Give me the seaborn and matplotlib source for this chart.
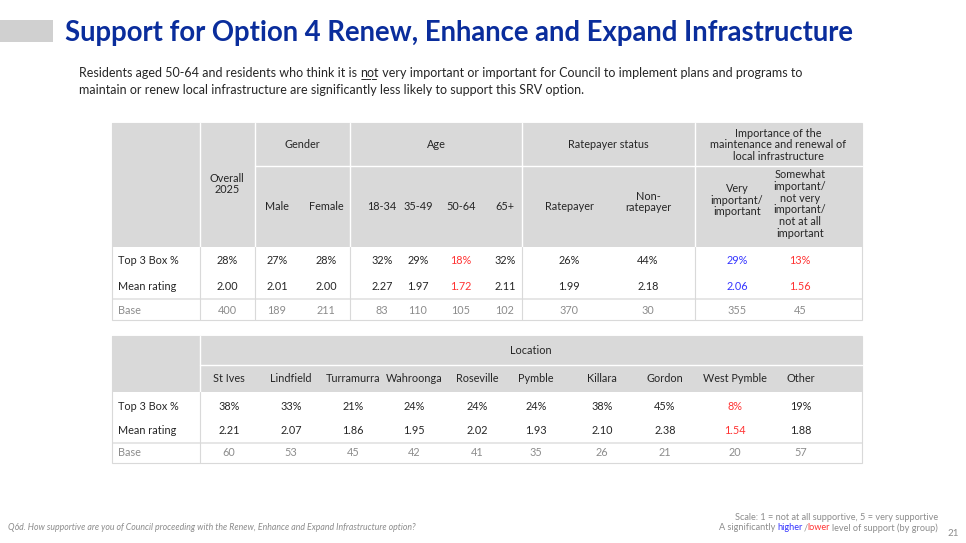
import matplotlib
matplotlib.use("Agg")
import matplotlib.pyplot as plt
import seaborn as sns
from matplotlib.patches import Rectangle

sns.set_theme(style="white")
plt.rcParams['font.family'] = ['Lato', 'DejaVu Sans']

# ---- data ----
t1_groups = ["Gender", "Age", "Ratepayer status",
             "Importance of the\nmaintenance and renewal of\nlocal infrastructure"]
t1_cols = ["Overall\n2025", "Male", "Female", "18-34", "35-49", "50-64", "65+",
           "Ratepayer", "Non-\nratepayer", "Very\nimportant/\nimportant",
           "Somewhat\nimportant/\nnot very\nimportant/\nnot at all\nimportant"]
t1_top3 = ["28%", "27%", "28%", "32%", "29%", "18%", "32%", "26%", "44%", "29%", "13%"]
t1_mean = ["2.00", "2.01", "2.00", "2.27", "1.97", "1.72", "2.11", "1.99", "2.18", "2.06", "1.56"]
t1_base = ["400", "189", "211", "83", "110", "105", "102", "370", "30", "355", "45"]
t1_sig = ["", "", "", "", "", "low", "", "", "", "high", "low"]

t2_cols = ["St Ives", "Lindfield", "Turramurra", "Wahroonga", "Roseville", "Pymble",
           "Killara", "Gordon", "West Pymble", "Other"]
t2_top3 = ["38%", "33%", "21%", "24%", "24%", "24%", "38%", "45%", "8%", "19%"]
t2_mean = ["2.21", "2.07", "1.86", "1.95", "2.02", "1.93", "2.10", "2.38", "1.54", "1.88"]
t2_base = ["60", "53", "45", "42", "41", "35", "26", "21", "20", "57"]
t2_sig = ["", "", "", "", "", "", "", "", "low", ""]

row_labels = ["Top 3 Box %", "Mean rating", "Base"]

# ---- layout ----
HDR = "#d9d9d9"
TXT = "#262626"
GREY = "#8c8c8c"
SIGC = {"": TXT, "high": "#3333ff", "low": "#ff3333"}
FS = 7.8

fig = plt.figure(figsize=(9.66, 5.43), dpi=100)
ax = fig.add_axes([0, 0, 1, 1])
ax.set_xlim(0, 966); ax.set_ylim(543, 0); ax.axis("off")

# title
ax.add_patch(Rectangle((0, 20), 53, 22, color="#d0d0d0", lw=0))
ax.text(65, 33, "Support for Option 4 Renew, Enhance and Expand Infrastructure",
        fontsize=19.8, fontweight="bold", color="#0a2d9c", va="center")
SUB = 9.0
a1 = ax.text(79, 73, "Residents aged 50-64 and residents who think it is ", fontsize=SUB, color=TXT, va="center")
a2 = ax.annotate("not", xycoords=a1, xy=(1, 0.5), va="center", fontsize=SUB, color=TXT)
a2.set_text("not")
ax.annotate(" very important or important for Council to implement plans and programs to",
            xycoords=a2, xy=(1, 0.5), va="center", fontsize=SUB, color=TXT)
ax.annotate("___", xycoords=a1, xy=(1, 0.5), va="center", fontsize=SUB, color=TXT,
            xytext=(0, -1), textcoords="offset points")
ax.text(79, 90, "maintain or renew local infrastructure are significantly less likely to support this SRV option.",
        fontsize=SUB, color=TXT, va="center")

def cell_text(x, y, s, color=TXT, fs=FS, ha="center"):
    ax.text(x, y, s, fontsize=fs, color=color, ha=ha, va="center", linespacing=1.1)

def table(x0, x1, top, hdr_bot, row_y, sep_y, bot, bounds, centers, values, sigs):
    ax.add_patch(Rectangle((x0, top), x1 - x0, hdr_bot - top, color=HDR, lw=0))
    ax.add_patch(Rectangle((x0, sep_y), x1 - x0, 2, color="#e6e6e6", lw=0))
    ax.add_patch(Rectangle((x0, top), x1 - x0, bot - top, fill=False, ec="#d9d9d9", lw=0.8))
    for b in bounds:
        ax.plot([b, b], [top, hdr_bot], color="white", lw=1)
        ax.plot([b, b], [hdr_bot, bot], color="#d9d9d9", lw=0.8)
    for i, lab in enumerate(row_labels):
        cell_text(x0 + 6, row_y[i], lab, color=GREY if i == 2 else TXT, ha="left")
    for j, cx in enumerate(centers):
        for i in range(3):
            c = GREY if i == 2 else SIGC[sigs[j]]
            cell_text(cx, row_y[i], values[i][j], color=c)

# table 1
b1 = [200, 255, 350, 522, 695]
c1 = [227, 277, 326, 382, 418, 461, 505, 569, 648, 737, 800]
table(112, 862, 123, 247, [260, 287, 310], 298, 320, b1, c1,
      [t1_top3, t1_mean, t1_base], t1_sig)
ax.plot([255, 862], [166, 166], color="white", lw=1)
gx = [(255 + 350) / 2, (350 + 522) / 2, (522 + 695) / 2, (695 + 862) / 2]
for g, x in zip(t1_groups, gx):
    cell_text(x, 145, g)
cell_text(c1[0], 184, t1_cols[0])
sub_y = [207, 207, 207, 207, 207, 207, 207, 207, 202, 200, 204]
for j in range(1, 11):
    cell_text(c1[j], sub_y[j], t1_cols[j])

# table 2
c2 = [229, 291, 353, 414, 477, 536, 602, 665, 735, 801]
table(112, 862, 336, 392, [407, 431, 453], 442, 463, [200], c2,
      [t2_top3, t2_mean, t2_base], t2_sig)
ax.plot([200, 862], [365, 365], color="white", lw=1)
cell_text((200 + 862) / 2, 350, "Location")
for j, cx in enumerate(c2):
    cell_text(cx, 379, t2_cols[j])

# footer
FF = 6.6
ax.text(8, 527, "Q6d. How supportive are you of Council proceeding with the Renew, Enhance and Expand Infrastructure option?",
        fontsize=6.3, style="italic", color=GREY, va="center")
ax.text(938, 517, "Scale: 1 = not at all supportive, 5 = very supportive",
        fontsize=FF, color=GREY, ha="right", va="center")
r = ax.text(938, 528, "level of support (by group)", fontsize=FF, color=GREY, ha="right", va="center")
r = ax.annotate(" ", xycoords=r, xy=(0, 0.5), ha="right", va="center", fontsize=FF)
r = ax.annotate("lower", xycoords=r, xy=(0, 0.5), ha="right", va="center", fontsize=FF, color="#ff3333")
r = ax.annotate("/", xycoords=r, xy=(0, 0.5), ha="right", va="center", fontsize=FF, color=GREY)
r = ax.annotate("higher", xycoords=r, xy=(0, 0.5), ha="right", va="center", fontsize=FF, color="#3333ff")
ax.annotate("A significantly ", xycoords=r, xy=(0, 0.5), ha="right", va="center", fontsize=FF, color=GREY)
ax.text(948, 533, "21", fontsize=7, color=GREY, va="center")

fig.savefig("out.png", dpi=100)
